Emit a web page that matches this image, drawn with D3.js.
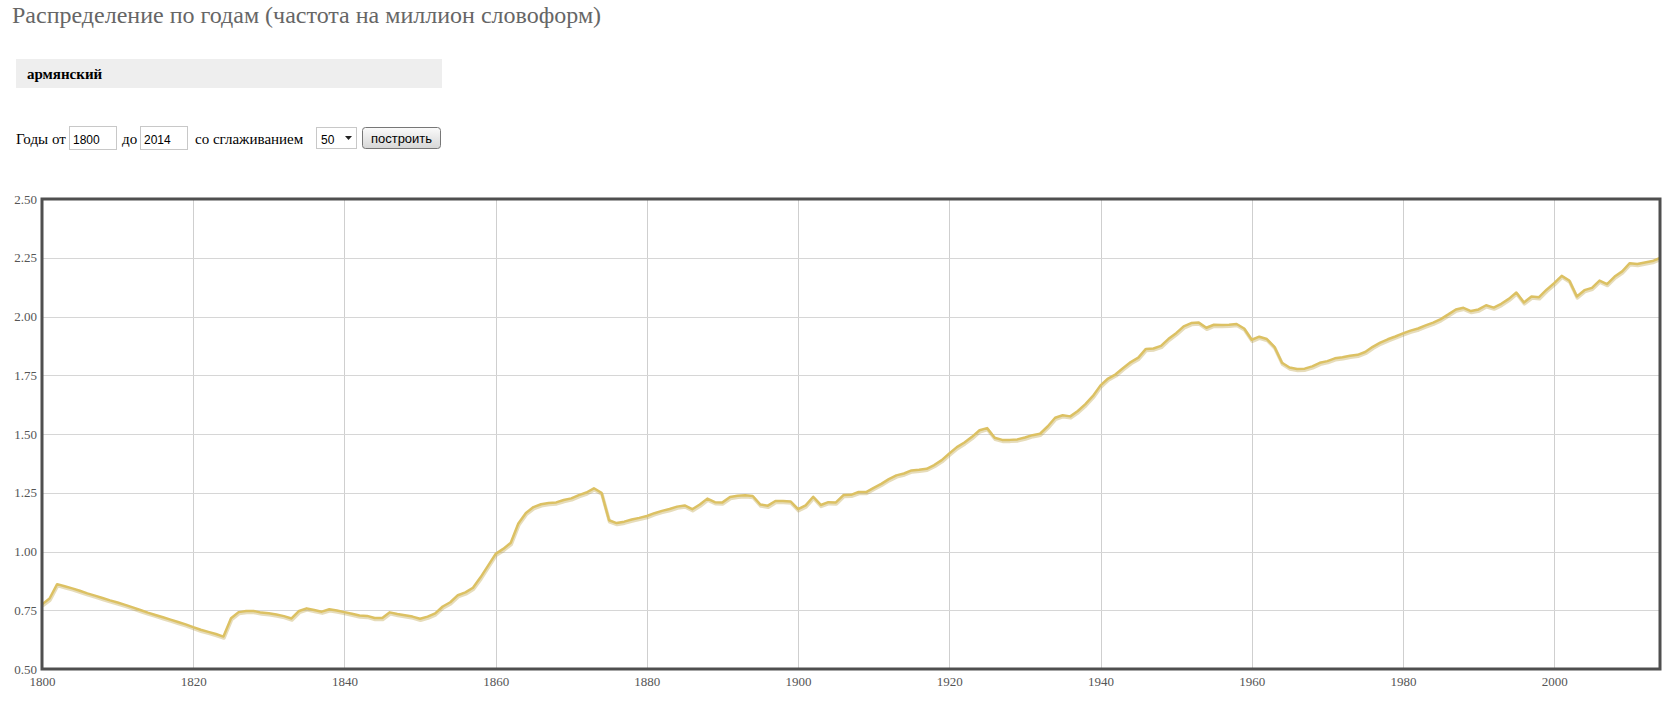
<!DOCTYPE html>
<html>
<head>
<meta charset="utf-8">
<script src="https://cdn.jsdelivr.net/npm/d3@7"></script>
<style>
  html, body { margin: 0; padding: 0; background: #fff; }
  svg { display: block; }
</style>
</head>
<body>
<svg id="chart" width="1675" height="701"></svg>
<script>
// ---- data ----
const titleText = "Распределение по годам (частота на миллион словоформ)";
const queryWord = "армянский";
const yearFrom = "1800";
const yearTo = "2014";
const smoothing = "50";
const years = d3.range(1800, 2015);
const values = [
  0.775, 0.800, 0.861, 0.852, 0.843, 0.833, 0.822, 0.812, 0.802, 0.792, // 1800-1809
  0.783, 0.773, 0.762, 0.751, 0.740, 0.730, 0.720, 0.710, 0.700, 0.690, // 1810-1819
  0.678, 0.667, 0.658, 0.649, 0.638, 0.716, 0.742, 0.747, 0.747, 0.740, // 1820-1829
  0.737, 0.732, 0.725, 0.715, 0.747, 0.758, 0.751, 0.744, 0.754, 0.749, // 1830-1839
  0.742, 0.735, 0.728, 0.726, 0.717, 0.717, 0.741, 0.734, 0.729, 0.723, // 1840-1849
  0.714, 0.723, 0.737, 0.766, 0.784, 0.814, 0.826, 0.846, 0.890, 0.940, // 1850-1859
  0.990, 1.011, 1.037, 1.119, 1.164, 1.189, 1.201, 1.206, 1.209, 1.219, // 1860-1869
  1.226, 1.240, 1.251, 1.269, 1.250, 1.133, 1.121, 1.127, 1.136, 1.143, // 1870-1879
  1.151, 1.163, 1.173, 1.181, 1.191, 1.196, 1.180, 1.200, 1.225, 1.210, // 1880-1889
  1.209, 1.232, 1.237, 1.239, 1.236, 1.200, 1.195, 1.215, 1.215, 1.213, // 1890-1899
  1.180, 1.196, 1.233, 1.198, 1.210, 1.209, 1.240, 1.241, 1.253, 1.253, // 1900-1909
  1.271, 1.288, 1.308, 1.324, 1.332, 1.345, 1.348, 1.352, 1.368, 1.389, // 1910-1919
  1.417, 1.444, 1.464, 1.488, 1.516, 1.525, 1.484, 1.475, 1.475, 1.477, // 1920-1929
  1.485, 1.495, 1.501, 1.532, 1.569, 1.580, 1.575, 1.598, 1.627, 1.662, // 1930-1939
  1.707, 1.736, 1.754, 1.781, 1.806, 1.825, 1.862, 1.864, 1.875, 1.905, // 1940-1949
  1.929, 1.958, 1.972, 1.974, 1.952, 1.965, 1.964, 1.965, 1.968, 1.949, // 1950-1959
  1.901, 1.914, 1.904, 1.871, 1.803, 1.783, 1.777, 1.778, 1.788, 1.803, // 1960-1969
  1.810, 1.822, 1.827, 1.833, 1.837, 1.849, 1.871, 1.889, 1.903, 1.915, // 1970-1979
  1.928, 1.940, 1.949, 1.962, 1.974, 1.989, 2.009, 2.030, 2.037, 2.023, // 1980-1989
  2.030, 2.048, 2.038, 2.054, 2.075, 2.102, 2.060, 2.085, 2.082, 2.114, // 1990-1999
  2.142, 2.173, 2.153, 2.085, 2.112, 2.122, 2.153, 2.138, 2.170, 2.192, // 2000-2009
  2.227, 2.223, 2.230, 2.236, 2.249                                     // 2010-2014
];
const xTicks = [1800, 1820, 1840, 1860, 1880, 1900, 1920, 1940, 1960, 1980, 2000];
const yTicks = [0.50, 0.75, 1.00, 1.25, 1.50, 1.75, 2.00, 2.25, 2.50];

// ---- layout ----
const svg = d3.select("#chart");
const plot = { left: 42, top: 199, right: 1660, bottom: 669 };
const serif = "'Liberation Serif', 'Times New Roman', serif";
const sans = "'Liberation Sans', Arial, sans-serif";

// Title
svg.append("text")
  .attr("x", 12).attr("y", 23)
  .attr("font-family", serif).attr("font-size", 24)
  .attr("fill", "#666")
  .text(titleText);

// Query box
svg.append("rect").attr("x", 16).attr("y", 59).attr("width", 426).attr("height", 29).attr("fill", "#eeeeee");
svg.append("text")
  .attr("x", 27).attr("y", 78.5)
  .attr("font-family", serif).attr("font-size", 15).attr("font-weight", "bold")
  .attr("fill", "#000")
  .text(queryWord);

// Form row
const formY = 143.5;
const formFont = 15;
svg.append("text").attr("x", 16).attr("y", formY)
  .attr("font-family", serif).attr("font-size", formFont).text("Годы от");
function inputBox(x, w, txt) {
  svg.append("rect").attr("x", x + 0.5).attr("y", 126.5).attr("width", w).attr("height", 23)
    .attr("fill", "#fff").attr("stroke", "#c8c8c8");
  svg.append("text").attr("x", x + 4).attr("y", formY)
    .attr("font-family", sans).attr("font-size", 12).attr("fill", "#000").text(txt);
}
inputBox(69, 47, yearFrom);
svg.append("text").attr("x", 122).attr("y", formY)
  .attr("font-family", serif).attr("font-size", formFont).text("до");
inputBox(140, 47, yearTo);
svg.append("text").attr("x", 195).attr("y", formY)
  .attr("font-family", serif).attr("font-size", formFont).text("со сглаживанием");
// select
svg.append("rect").attr("x", 316.5).attr("y", 127.5).attr("width", 40).attr("height", 21)
  .attr("fill", "#fff").attr("stroke", "#c8c8c8");
svg.append("text").attr("x", 321).attr("y", formY)
  .attr("font-family", sans).attr("font-size", 12).text(smoothing);
svg.append("path").attr("d", "M345,136 L352,136 L348.5,140 Z").attr("fill", "#222");
// button
const grad = svg.append("defs").append("linearGradient").attr("id", "btn").attr("x1", 0).attr("y1", 0).attr("x2", 0).attr("y2", 1);
grad.append("stop").attr("offset", "0%").attr("stop-color", "#fbfbfb");
grad.append("stop").attr("offset", "100%").attr("stop-color", "#d6d6d6");
svg.append("rect").attr("x", 362.5).attr("y", 127.5).attr("width", 78).attr("height", 21).attr("rx", 3)
  .attr("fill", "url(#btn)").attr("stroke", "#777");
svg.append("text").attr("x", 401.5).attr("y", 142.5)
  .attr("text-anchor", "middle")
  .attr("font-family", sans).attr("font-size", 13).text("построить");

// ---- chart ----
const x = d3.scaleLinear().domain([1800, 2014]).range([plot.left, plot.right]);
const y = d3.scaleLinear().domain([0.5, 2.5]).range([plot.bottom, plot.top]);

const g = svg.append("g");
// grid
g.append("g").selectAll("line").data(xTicks.filter(t => t > 1800)).join("line")
  .attr("x1", d => Math.round(x(d)) + 0.5).attr("x2", d => Math.round(x(d)) + 0.5)
  .attr("y1", plot.top).attr("y2", plot.bottom)
  .attr("stroke", "#cfcfcf").attr("stroke-width", 1);
g.append("g").selectAll("line").data(yTicks.filter(t => t > 0.5 && t < 2.5)).join("line")
  .attr("x1", plot.left).attr("x2", plot.right)
  .attr("y1", d => Math.round(y(d)) + 0.5).attr("y2", d => Math.round(y(d)) + 0.5)
  .attr("stroke", "#d6d6d6").attr("stroke-width", 1);

// axes (labels through d3 axis generators)
const yAxis = d3.axisLeft(y).tickValues(yTicks).tickFormat(d3.format(".2f")).tickSize(0).tickPadding(4);
const yg = g.append("g").attr("transform", `translate(${plot.left - 1},0)`).call(yAxis);
yg.select(".domain").remove();
yg.selectAll("text").attr("font-family", serif).attr("font-size", 13).attr("fill", "#555");

const xAxis = d3.axisBottom(x).tickValues(xTicks).tickFormat(d3.format("d")).tickSize(0).tickPadding(8);
const xg = g.append("g").attr("transform", `translate(0,${plot.bottom})`).call(xAxis);
xg.select(".domain").remove();
xg.selectAll("text").attr("font-family", serif).attr("font-size", 13).attr("fill", "#555");

// line
const data = years.map((yr, i) => ({ year: yr, value: values[i] }));
const line = d3.line().x(d => x(d.year)).y(d => y(d.value));
g.append("path").datum(data)
  .attr("d", line)
  .attr("transform", "translate(0.5,1.5)")
  .attr("fill", "none")
  .attr("stroke", "#b89a3a").attr("stroke-opacity", 0.35)
  .attr("stroke-width", 3.5).attr("stroke-linejoin", "round");
g.append("path").datum(data)
  .attr("d", line)
  .attr("fill", "none")
  .attr("stroke", "#dcc163")
  .attr("stroke-width", 2.5).attr("stroke-linejoin", "round");

// frame
g.append("rect")
  .attr("x", plot.left).attr("y", plot.top)
  .attr("width", plot.right - plot.left).attr("height", plot.bottom - plot.top)
  .attr("fill", "none").attr("stroke", "#4f4f4f").attr("stroke-width", 3);
</script>
</body>
</html>
